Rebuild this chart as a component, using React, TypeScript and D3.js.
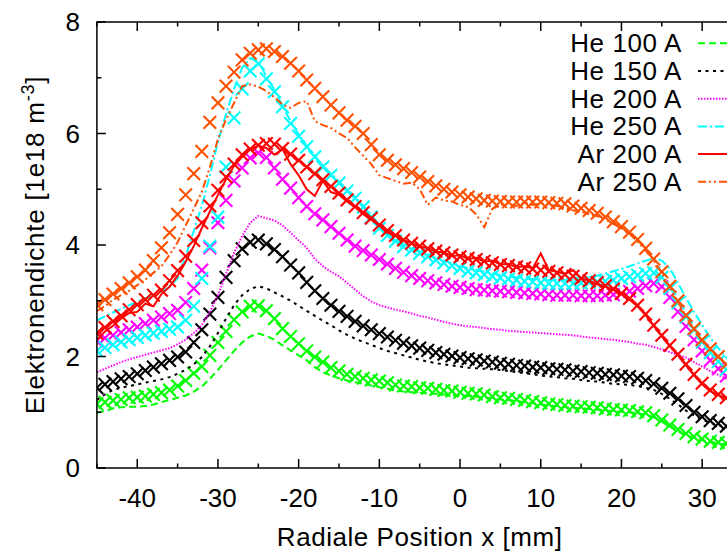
import React, { useEffect, useRef } from "react";
import * as d3 from "d3";

// Radial positions (mm) shared by every profile
const POSITION_MM = [
  -45, -44, -43, -42, -41, -40, -39, -38, -37, -36,
  -35, -34, -33, -32, -31, -30, -29, -28, -27, -26,
  -25, -24, -23, -22, -21, -20, -19, -18, -17, -16,
  -15, -14, -13, -12, -11, -10, -9, -8, -7, -6,
  -5, -4, -3, -2, -1, 0, 1, 2, 3, 4,
  5, 6, 7, 8, 9, 10, 11, 12, 13, 14,
  15, 16, 17, 18, 19, 20, 21, 22, 23, 24,
  25, 26, 27, 28, 29, 30, 31, 32, 33, 34,
  35,
];

// Electron density [1e18 m^-3], cross-marked profiles
const HE100_MARKS = [
  1.15, 1.18, 1.21, 1.23, 1.26, 1.27, 1.29, 1.32, 1.35, 1.40,
  1.47, 1.57, 1.70, 1.82, 2.02, 2.25, 2.45, 2.66, 2.80, 2.90,
  2.91, 2.82, 2.68, 2.50, 2.36, 2.23, 2.10, 1.99, 1.90, 1.80,
  1.74, 1.68, 1.64, 1.61, 1.58, 1.56, 1.53, 1.49, 1.47, 1.46,
  1.44, 1.43, 1.41, 1.39, 1.38, 1.36, 1.34, 1.33, 1.31, 1.28,
  1.26, 1.25, 1.23, 1.21, 1.19, 1.17, 1.15, 1.14, 1.12, 1.11,
  1.10, 1.09, 1.08, 1.06, 1.05, 1.04, 1.03, 1.01, 0.99, 0.94,
  0.86, 0.77, 0.69, 0.62, 0.56, 0.52, 0.48, 0.46, 0.44, 0.42,
  0.41,
];
const HE150_MARKS = [
  1.44, 1.50, 1.55, 1.60, 1.64, 1.69, 1.75, 1.81, 1.87, 1.93,
  1.99, 2.08, 2.25, 2.48, 2.76, 3.06, 3.42, 3.72, 3.93, 4.05,
  4.09, 4.02, 3.92, 3.79, 3.64, 3.50, 3.33, 3.18, 3.04, 2.92,
  2.81, 2.72, 2.63, 2.55, 2.48, 2.41, 2.35, 2.29, 2.24, 2.19,
  2.15, 2.11, 2.07, 2.04, 2.01, 1.98, 1.96, 1.94, 1.92, 1.90,
  1.88, 1.86, 1.84, 1.83, 1.81, 1.80, 1.78, 1.77, 1.76, 1.74,
  1.73, 1.71, 1.70, 1.68, 1.67, 1.65, 1.64, 1.61, 1.57, 1.51,
  1.43, 1.34, 1.24, 1.12, 1.00, 0.92, 0.85, 0.80, 0.75, 0.71,
  0.68,
];
const HE200_MARKS = [
  2.28, 2.33, 2.38, 2.43, 2.48, 2.53, 2.59, 2.65, 2.71, 2.77,
  2.83, 2.97, 3.22, 3.55, 3.95, 4.40, 4.80, 5.15, 5.38, 5.56,
  5.65, 5.57, 5.38, 5.18, 5.02, 4.85, 4.69, 4.56, 4.45, 4.33,
  4.21, 4.09, 3.98, 3.90, 3.82, 3.74, 3.66, 3.58, 3.51, 3.45,
  3.40, 3.36, 3.32, 3.29, 3.26, 3.24, 3.22, 3.20, 3.19, 3.18,
  3.17, 3.16, 3.15, 3.14, 3.13, 3.12, 3.11, 3.10, 3.10, 3.10,
  3.09, 3.09, 3.09, 3.10, 3.11, 3.13, 3.17, 3.22, 3.27, 3.31,
  3.25, 3.06, 2.80, 2.54, 2.30, 2.10, 1.93, 1.78, 1.65, 1.54,
  1.45,
];
const HE250_MARKS = [
  2.10, 2.16, 2.21, 2.26, 2.30, 2.34, 2.38, 2.42, 2.45, 2.49,
  2.53, 2.65, 2.90, 3.40, 3.98, 4.50, 5.40, 6.28, 6.80, 7.12,
  7.25, 6.98, 6.75, 6.48, 6.18, 5.95, 5.76, 5.58, 5.40, 5.25,
  5.11, 4.97, 4.84, 4.68, 4.50, 4.30, 4.17, 4.07, 3.97, 3.91,
  3.85, 3.79, 3.73, 3.68, 3.63, 3.58, 3.53, 3.50, 3.47, 3.44,
  3.41, 3.39, 3.37, 3.35, 3.34, 3.32, 3.31, 3.31, 3.31, 3.31,
  3.32, 3.33, 3.34, 3.35, 3.37, 3.40, 3.43, 3.46, 3.49, 3.50,
  3.42, 3.22, 2.96, 2.71, 2.48, 2.26, 2.07, 1.91, 1.77, 1.65,
  1.55,
];
const AR200_MARKS = [
  2.42, 2.52, 2.63, 2.73, 2.84, 2.93, 3.02, 3.10, 3.19, 3.36,
  3.54, 3.80, 4.08, 4.40, 4.70, 4.98, 5.22, 5.45, 5.62, 5.72,
  5.79, 5.82, 5.81, 5.73, 5.63, 5.52, 5.40, 5.28, 5.17, 5.05,
  4.93, 4.81, 4.69, 4.58, 4.48, 4.36, 4.26, 4.17, 4.09, 4.03,
  3.98, 3.93, 3.89, 3.86, 3.82, 3.79, 3.76, 3.74, 3.71, 3.68,
  3.65, 3.63, 3.61, 3.59, 3.57, 3.55, 3.53, 3.50, 3.47, 3.44,
  3.40, 3.36, 3.32, 3.27, 3.21, 3.13, 3.04, 2.92, 2.76, 2.56,
  2.38, 2.20, 2.04, 1.86, 1.68, 1.52, 1.40, 1.32, 1.26, 1.22,
  1.19,
];
const AR250_MARKS = [
  2.93, 3.02, 3.12, 3.22, 3.32, 3.43, 3.55, 3.72, 3.95, 4.22,
  4.55, 4.90, 5.28, 5.68, 6.20, 6.55, 6.85, 7.10, 7.32, 7.44,
  7.50, 7.52, 7.47, 7.38, 7.26, 7.12, 6.96, 6.81, 6.66, 6.51,
  6.37, 6.24, 6.13, 6.00, 5.80, 5.62, 5.52, 5.44, 5.37, 5.30,
  5.22, 5.14, 5.06, 5.00, 4.95, 4.90, 4.86, 4.83, 4.80, 4.79,
  4.78, 4.77, 4.77, 4.77, 4.77, 4.77, 4.76, 4.75, 4.74, 4.70,
  4.66, 4.62, 4.57, 4.50, 4.42, 4.33, 4.23, 4.10, 3.94, 3.75,
  3.52, 3.26, 3.00, 2.74, 2.50, 2.30, 2.14, 2.00, 1.86, 1.76,
  1.68,
];

// Electron density [1e18 m^-3], line-drawn profiles
const HE100_CURVE = [
  0.99, 1.02, 1.07, 1.09, 1.10, 1.10, 1.11, 1.14, 1.18, 1.22,
  1.26, 1.30, 1.37, 1.46, 1.60, 1.76, 1.93, 2.10, 2.25, 2.36,
  2.41, 2.37, 2.30, 2.20, 2.11, 2.02, 1.93, 1.81, 1.72, 1.66,
  1.61, 1.57, 1.54, 1.51, 1.48, 1.45, 1.42, 1.39, 1.37, 1.36,
  1.35, 1.34, 1.33, 1.32, 1.31, 1.30, 1.29, 1.28, 1.26, 1.25,
  1.23, 1.22, 1.20, 1.18, 1.16, 1.14, 1.12, 1.11, 1.09, 1.08,
  1.07, 1.06, 1.05, 1.03, 1.02, 1.01, 1.00, 0.98, 0.96, 0.91,
  0.83, 0.74, 0.66, 0.59, 0.54, 0.50, 0.47, 0.44, 0.42, 0.40,
  0.39,
];
const HE150_CURVE = [
  1.22, 1.32, 1.40, 1.44, 1.47, 1.50, 1.53, 1.56, 1.59, 1.63,
  1.69, 1.76, 1.86, 1.99, 2.18, 2.42, 2.68, 2.92, 3.10, 3.21,
  3.26, 3.22, 3.15, 3.08, 3.00, 2.91, 2.82, 2.73, 2.64, 2.56,
  2.47, 2.39, 2.32, 2.26, 2.21, 2.15, 2.10, 2.06, 2.02, 1.98,
  1.94, 1.91, 1.88, 1.86, 1.84, 1.82, 1.80, 1.79, 1.78, 1.77,
  1.76, 1.74, 1.72, 1.70, 1.68, 1.66, 1.64, 1.63, 1.61, 1.60,
  1.58, 1.56, 1.55, 1.53, 1.51, 1.50, 1.49, 1.47, 1.44, 1.40,
  1.33, 1.24, 1.14, 1.03, 0.94, 0.87, 0.81, 0.77, 0.73, 0.70,
  0.67,
];
const HE200_CURVE = [
  1.72, 1.78, 1.84, 1.90, 1.95, 1.99, 2.03, 2.07, 2.11, 2.15,
  2.22, 2.30, 2.42, 2.56, 2.80, 3.10, 3.48, 3.86, 4.16, 4.40,
  4.52, 4.48, 4.44, 4.35, 4.22, 4.08, 3.95, 3.75, 3.62, 3.52,
  3.44, 3.32, 3.20, 3.08, 2.99, 2.92, 2.88, 2.84, 2.81, 2.77,
  2.73, 2.70, 2.66, 2.62, 2.59, 2.56, 2.54, 2.53, 2.51, 2.49,
  2.48, 2.46, 2.45, 2.44, 2.43, 2.42, 2.41, 2.40, 2.39, 2.38,
  2.36, 2.34, 2.33, 2.31, 2.30, 2.28, 2.26, 2.23, 2.21, 2.17,
  2.13, 2.08, 2.03, 1.98, 1.90, 1.82, 1.74, 1.67, 1.60, 1.54,
  1.48,
];
const HE250_CURVE = [
  2.65, 2.72, 2.79, 2.85, 2.92, 2.98, 3.04, 3.10, 3.17, 3.26,
  3.40, 3.80, 4.25, 4.70, 5.25, 5.85, 6.35, 6.80, 7.18, 7.35,
  7.30, 7.02, 6.78, 6.50, 6.22, 5.98, 5.78, 5.60, 5.43, 5.28,
  5.14, 5.00, 4.86, 4.71, 4.54, 4.36, 4.22, 4.11, 4.02, 3.95,
  3.89, 3.83, 3.77, 3.72, 3.67, 3.62, 3.58, 3.55, 3.52, 3.49,
  3.46, 3.44, 3.42, 3.40, 3.39, 3.38, 3.37, 3.37, 3.37, 3.38,
  3.40, 3.42, 3.45, 3.49, 3.53, 3.57, 3.62, 3.67, 3.72, 3.76,
  3.72, 3.58, 3.32, 3.05, 2.80, 2.56, 2.34, 2.15, 1.98, 1.84,
  1.72,
];
const AR200_CURVE = [
  2.30, 2.45, 2.55, 2.68, 2.78, 2.80, 2.95, 2.90, 3.12, 3.25,
  3.45, 3.70, 3.98, 4.30, 4.60, 4.90, 5.18, 5.42, 5.58, 5.72,
  5.78, 5.74, 5.62, 5.72, 5.45, 5.25, 5.00, 4.88, 5.15, 4.95,
  4.90, 4.78, 4.68, 4.55, 4.45, 4.35, 4.22, 4.18, 4.08, 4.04,
  3.97, 3.95, 3.88, 3.87, 3.80, 3.82, 3.75, 3.77, 3.70, 3.72,
  3.65, 3.66, 3.60, 3.62, 3.58, 3.85, 3.55, 3.52, 3.48, 3.55,
  3.40, 3.36, 3.30, 3.25, 3.20, 3.12, 3.02, 2.90, 2.74, 2.55,
  2.36, 2.18, 2.02, 1.84, 1.66, 1.50, 1.38, 1.31, 1.25, 1.21,
  1.18,
];
const AR250_CURVE = [
  2.82, 2.90, 3.02, 3.10, 3.18, 3.28, 3.38, 3.50, 3.62, 3.82,
  4.05, 4.35, 4.65, 4.95, 5.40, 5.90, 6.25, 6.55, 6.85, 6.88,
  6.84, 6.76, 6.65, 6.52, 6.46, 6.55, 6.58, 6.22, 6.15, 6.10,
  6.00, 5.92, 5.75, 5.60, 5.45, 5.25, 5.20, 5.15, 5.10, 5.12,
  5.00, 4.72, 4.85, 4.80, 4.78, 4.72, 4.68, 4.55, 4.32, 4.65,
  4.72, 4.74, 4.70, 4.76, 4.72, 4.75, 4.72, 4.70, 4.66, 4.62,
  4.60, 4.55, 4.52, 4.46, 4.38, 4.30, 4.20, 4.06, 3.90, 3.72,
  3.50, 3.24, 2.98, 2.72, 2.48, 2.28, 2.12, 1.98, 1.85, 1.75,
  1.66,
];

const SERIES_LABELS = ["He 100 A", "He 150 A", "He 200 A", "He 250 A", "Ar 200 A", "Ar 250 A"];
const SERIES_MARKS = [HE100_MARKS, HE150_MARKS, HE200_MARKS, HE250_MARKS, AR200_MARKS, AR250_MARKS];
const SERIES_CURVES = [HE100_CURVE, HE150_CURVE, HE200_CURVE, HE250_CURVE, AR200_CURVE, AR250_CURVE];
const SERIES_COLORS = ["#00ff00", "#000000", "#ff00ff", "#00ffff", "#ff0000", "#ff5000"];
const SERIES_DASHES = ["7,4", "3,4.5", "1.5,1.5", "9,3,2,3", "", "8,3,2,3,2,3"];

const X_MAJOR = [-40, -30, -20, -10, 0, 10, 20, 30];
const X_MINOR = [-45, -35, -25, -15, -5, 5, 15, 25, 35];
const Y_MAJOR = [0, 2, 4, 6, 8];
const Y_MINOR = [1, 3, 5, 7];

const W = 727;
const H = 554;
const FONT = "'Liberation Sans', Arial, Helvetica, sans-serif";

export default function App() {
  const ref = useRef<SVGSVGElement>(null);

  useEffect(() => {
    const svg = d3.select(ref.current);
    svg.selectAll("*").remove();

    const x = d3.scaleLinear().domain([-45, 35]).range([96.9, 742.5]);
    const y = d3.scaleLinear().domain([0, 8]).range([468, 22]);
    const [x0, x1] = x.range();
    const [y0, y1] = y.range();

    svg.append("rect").attr("width", W).attr("height", H).attr("fill", "#fff");

    const defs = svg.append("defs");
    defs.append("clipPath").attr("id", "plot-clip")
      .append("rect").attr("x", x0).attr("y", y1).attr("width", x1 - x0).attr("height", y0 - y1);

    const plot = svg.append("g").attr("clip-path", "url(#plot-clip)");
    const line = d3.line<number>()
      .x((_, i) => x(POSITION_MM[i]))
      .y((v) => y(v));

    // "x" shaped point symbol
    const s = 6.3;
    const crossPath = `M${-s},${-s}L${s},${s}M${-s},${s}L${s},${-s}`;

    SERIES_LABELS.forEach((_, k) => {
      const color = SERIES_COLORS[k];
      plot.append("g")
        .selectAll("path")
        .data(SERIES_MARKS[k])
        .join("path")
        .attr("d", crossPath)
        .attr("transform", (v, i) => `translate(${x(POSITION_MM[i])},${y(v)})`)
        .attr("stroke", color)
        .attr("stroke-width", 2.1)
        .attr("fill", "none");

      plot.append("path")
        .datum(SERIES_CURVES[k])
        .attr("d", line)
        .attr("fill", "none")
        .attr("stroke", color)
        .attr("stroke-width", 2)
        .attr("stroke-dasharray", SERIES_DASHES[k] || null);
    });

    // frame and inward ticks
    const axes = svg.append("g").attr("stroke", "#000").attr("stroke-width", 1.5);
    axes.append("rect").attr("x", x0).attr("y", y1).attr("width", x1 - x0).attr("height", y0 - y1)
      .attr("fill", "none");
    const xt = [...X_MAJOR.map((v) => [v, 9]), ...X_MINOR.map((v) => [v, 4.5])];
    xt.forEach(([v, len]) => {
      axes.append("line").attr("x1", x(v)).attr("x2", x(v)).attr("y1", y0).attr("y2", y0 - len);
      axes.append("line").attr("x1", x(v)).attr("x2", x(v)).attr("y1", y1).attr("y2", y1 + len);
    });
    const yt = [...Y_MAJOR.map((v) => [v, 9]), ...Y_MINOR.map((v) => [v, 4.5])];
    yt.forEach(([v, len]) => {
      axes.append("line").attr("x1", x0).attr("x2", x0 + len).attr("y1", y(v)).attr("y2", y(v));
      axes.append("line").attr("x1", x1).attr("x2", x1 - len).attr("y1", y(v)).attr("y2", y(v));
    });

    const text = svg.append("g").attr("font-family", FONT).attr("font-size", 26).attr("fill", "#000");
    X_MAJOR.forEach((v) => {
      text.append("text").attr("x", x(v)).attr("y", 506.5).attr("text-anchor", "middle").text(String(v));
    });
    Y_MAJOR.forEach((v) => {
      text.append("text").attr("x", 80).attr("y", y(v) + 9.3).attr("text-anchor", "end").text(String(v));
    });

    text.append("text")
      .attr("x", (x0 + x1) / 2).attr("y", 546)
      .attr("text-anchor", "middle").attr("letter-spacing", 0.55)
      .text("Radiale Position x [mm]");

    const yl = text.append("text")
      .attr("transform", `translate(43.5,${(y0 + y1) / 2}) rotate(-90)`)
      .attr("text-anchor", "middle").attr("letter-spacing", 0.75);
    yl.append("tspan").text("Elektronendichte [1e18 m");
    yl.append("tspan").attr("dy", -10).attr("font-size", 18).text("-3");
    yl.append("tspan").attr("dy", 10).text("]");

    // legend
    const leg = svg.append("g");
    SERIES_LABELS.forEach((label, k) => {
      const cy = 43.3 + k * 27.7;
      leg.append("text").attr("x", 682).attr("y", cy + 9)
        .attr("text-anchor", "end").attr("font-family", FONT).attr("font-size", 26)
        .attr("letter-spacing", 0.6).text(label);
      leg.append("line").attr("x1", 698).attr("x2", 742).attr("y1", cy).attr("y2", cy)
        .attr("stroke", SERIES_COLORS[k]).attr("stroke-width", 2)
        .attr("stroke-dasharray", SERIES_DASHES[k] || null);
    });
  }, []);

  return (
    <div style={{ position: "absolute", left: 0, top: 0, width: W, height: H, overflow: "hidden" }}>
      <svg ref={ref} width={W} height={H} style={{ display: "block" }} />
    </div>
  );
}
